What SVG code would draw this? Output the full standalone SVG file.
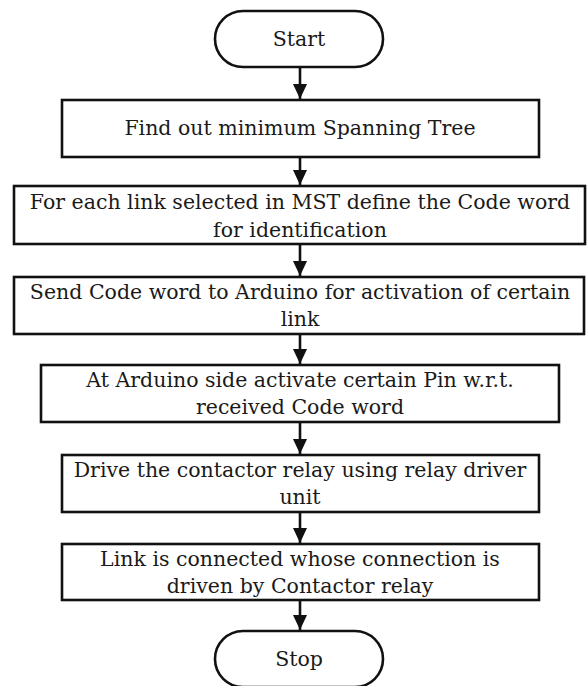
<svg xmlns="http://www.w3.org/2000/svg" width="587" height="686" viewBox="0 0 587 686">
<style>
.box{fill:#fff;stroke:#111;stroke-width:2.6}
.t{font-family:"DejaVu Serif","Liberation Serif",serif;font-size:20.5px;fill:#1a1a1a;text-anchor:middle}
.c{stroke:#111;stroke-width:2.6;fill:none}
</style>
<defs>
<marker id="ah" markerUnits="userSpaceOnUse" markerWidth="16" markerHeight="14" refX="15" refY="7" orient="auto" viewBox="0 0 16 14">
<path d="M0,0 L15,7 L0,14 Z" fill="#111"/>
</marker>
</defs>
<rect width="587" height="686" fill="#fff"/>
<g id="connectors">
<line class="c" x1="300" y1="67" x2="300" y2="99" marker-end="url(#ah)"/>
<line class="c" x1="300" y1="157" x2="300" y2="185" marker-end="url(#ah)"/>
<line class="c" x1="300" y1="244" x2="300" y2="276" marker-end="url(#ah)"/>
<line class="c" x1="300" y1="334" x2="300" y2="364" marker-end="url(#ah)"/>
<line class="c" x1="300" y1="422" x2="300" y2="454" marker-end="url(#ah)"/>
<line class="c" x1="300" y1="512" x2="300" y2="543" marker-end="url(#ah)"/>
<line class="c" x1="300" y1="600" x2="300" y2="630" marker-end="url(#ah)"/>
</g>
<g id="start">
<rect class="box" x="215" y="11" width="168" height="56" rx="28"/>
<text class="t" x="299" y="46">Start</text>
</g>
<g id="step1">
<rect class="box" x="62" y="100" width="477" height="57"/>
<text class="t" x="300" y="135">Find out minimum Spanning Tree</text>
</g>
<g id="step2">
<rect class="box" x="14" y="186" width="571" height="58"/>
<text class="t" x="300" y="209">For each link selected in MST define the Code word</text>
<text class="t" x="300" y="237">for identification</text>
</g>
<g id="step3">
<rect class="box" x="14" y="277" width="570" height="57"/>
<text class="t" x="300" y="299">Send Code word to Arduino for activation of certain</text>
<text class="t" x="300" y="326">link</text>
</g>
<g id="step4">
<rect class="box" x="41" y="365" width="518" height="57"/>
<text class="t" x="300" y="387">At Arduino side activate certain Pin w.r.t.</text>
<text class="t" x="300" y="414">received Code word</text>
</g>
<g id="step5">
<rect class="box" x="62" y="455" width="477" height="57"/>
<text class="t" x="300" y="477">Drive the contactor relay using relay driver</text>
<text class="t" x="300" y="504">unit</text>
</g>
<g id="step6">
<rect class="box" x="62" y="544" width="477" height="56"/>
<text class="t" x="300" y="566">Link is connected whose connection is</text>
<text class="t" x="300" y="593">driven by Contactor relay</text>
</g>
<g id="stop">
<rect class="box" x="215" y="631" width="168" height="56" rx="28"/>
<text class="t" x="299" y="666">Stop</text>
</g>
</svg>
